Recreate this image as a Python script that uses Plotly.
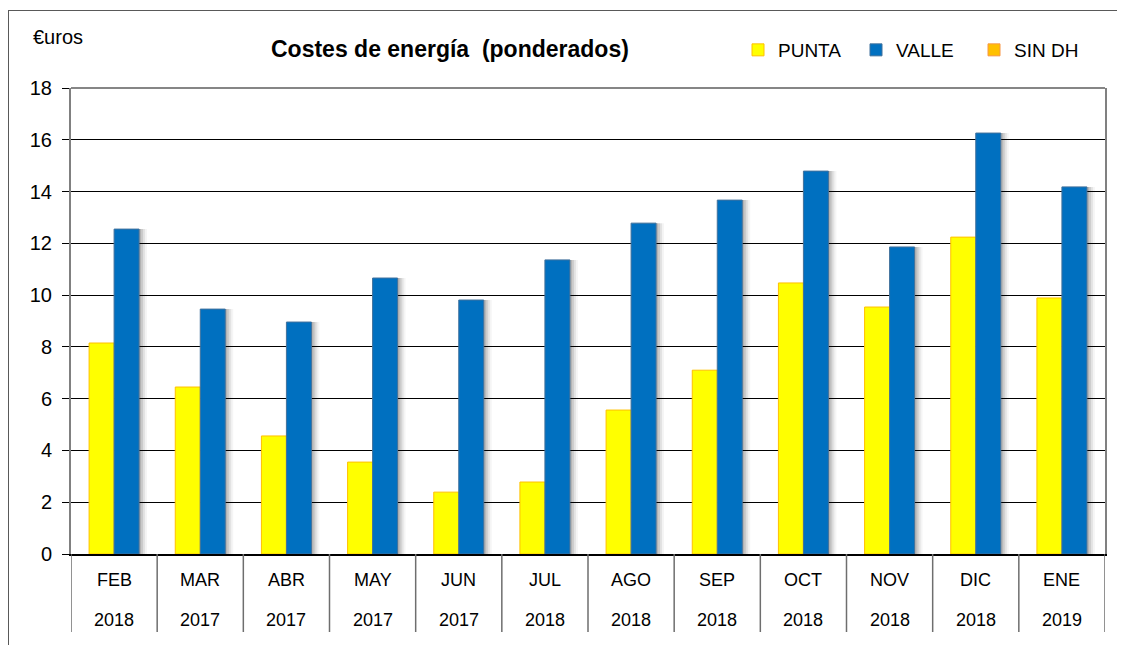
import plotly.graph_objects as go

months = ["FEB", "MAR", "ABR", "MAY", "JUN", "JUL", "AGO", "SEP", "OCT", "NOV", "DIC", "ENE"]
years = ["2018", "2017", "2017", "2017", "2017", "2018", "2018", "2018", "2018", "2018", "2018", "2019"]
punta = [8.15, 6.45, 4.56, 3.55, 2.39, 2.78, 5.56, 7.10, 10.47, 9.54, 12.24, 9.89]
valle = [12.55, 9.46, 8.96, 10.66, 9.81, 11.36, 12.78, 13.67, 14.79, 11.86, 16.26, 14.18]
y_ticks = [0, 2, 4, 6, 8, 10, 12, 14, 16, 18]

OFF = 8  # default page body margin
W, H = 1125 - OFF, 645 - OFF
# plot area in page pixels: x 71..1105, y 88..554
L, T = 71 - OFF, 88 - OFF
R = W - (1105 - OFF)
B = H - (554 - OFF)
PW = W - L - R
PH = H - T - B
px = 1.0 / (PW / 12.0)  # one pixel in category units
BW = 25 * px

def pxx(x):  # page x -> paper
    return (x - OFF - L) / PW

def pxy(y):  # page y -> paper
    return (H - B - (y - OFF)) / PH

FONT = "Liberation Sans, Arial, sans-serif"

fig = go.Figure()

# soft shadows behind the blue bars
for dx, op in [(8, 0.04), (6, 0.07), (4, 0.10), (2, 0.12)]:
    fig.add_trace(go.Bar(
        x=months, y=valle, width=BW, offset=dx * px,
        marker=dict(color=f"rgba(0,0,0,{op})", line=dict(width=0)),
        showlegend=False, hoverinfo="skip"))

fig.add_trace(go.Bar(
    name="PUNTA", x=months, y=punta, width=BW, offset=-BW,
    marker=dict(color="#FFFF00", line=dict(color="#FFC000", width=1))))
fig.add_trace(go.Bar(
    name="VALLE", x=months, y=valle, width=BW, offset=0,
    marker=dict(color="#0070C0", line=dict(color="#41719C", width=1))))
fig.add_trace(go.Bar(
    name="SIN DH", x=[months[0]], y=[None], width=BW, offset=0,
    marker=dict(color="#FFC000", line=dict(color="#F79646", width=1))))

shapes = []
# category separators under the axis
for i in range(len(months) + 1):
    shapes.append(dict(type="line", xref="x", yref="paper",
                       x0=i - 0.5, x1=i - 0.5, y0=0, y1=pxy(632),
                       line=dict(color="#6E6E6E", width=1.5)))
# top border of plot area
shapes.append(dict(type="line", xref="paper", yref="paper", x0=0, x1=1, y0=1, y1=1,
                   line=dict(color="#868686", width=2)))
# outer chart frame (top and left)
shapes.append(dict(type="line", xref="paper", yref="paper",
                   x0=pxx(8.5), x1=pxx(1130), y0=pxy(10.5), y1=pxy(10.5),
                   line=dict(color="#595959", width=1)))
shapes.append(dict(type="line", xref="paper", yref="paper",
                   x0=pxx(8.5), x1=pxx(8.5), y0=pxy(10), y1=pxy(650),
                   line=dict(color="#595959", width=1)))

annotations = []
for m, yv in zip(months, years):
    annotations.append(dict(x=m, y=pxy(580), xref="x", yref="paper", text=m,
                            showarrow=False, font=dict(size=18, color="#000000", family=FONT),
                            xanchor="center", yanchor="middle"))
    annotations.append(dict(x=m, y=pxy(620), xref="x", yref="paper", text=yv,
                            showarrow=False, font=dict(size=18, color="#000000", family=FONT),
                            xanchor="center", yanchor="middle"))
annotations.append(dict(x=pxx(31), y=pxy(37), xref="paper", yref="paper", text="€uros",
                        showarrow=False, font=dict(size=20, color="#000000", family=FONT),
                        xanchor="left", yanchor="middle"))
annotations.append(dict(x=pxx(450), y=pxy(49), xref="paper", yref="paper",
                        text="<b>Costes de energía  (ponderados)</b>",
                        showarrow=False, font=dict(size=23, color="#000000", family=FONT),
                        xanchor="center", yanchor="middle"))

fig.update_layout(
    width=W, height=H,
    margin=dict(l=L, r=R, t=T, b=B, pad=0),
    paper_bgcolor="white", plot_bgcolor="white",
    barmode="overlay",
    font=dict(family=FONT, size=18, color="#000000"),
    showlegend=True,
    legend=dict(orientation="h", x=pxx(738), y=pxy(50), xanchor="left", yanchor="middle",
                font=dict(size=19, color="#000000", family=FONT),
                entrywidth=73, entrywidthmode="pixels",
                bgcolor="rgba(0,0,0,0)", borderwidth=0, traceorder="normal"),
    shapes=shapes,
    annotations=annotations,
)
fig.update_xaxes(type="category", range=[-0.5, len(months) - 0.5],
                 showticklabels=False, ticks="", showgrid=False,
                 showline=True, linecolor="#000000", linewidth=1.5, zeroline=False)
fig.update_yaxes(range=[0, 18], tickvals=y_ticks, ticktext=[str(v) for v in y_ticks],
                 ticks="outside", ticklen=7, tickcolor="#000000", tickwidth=1,
                 ticklabelstandoff=6,
                 tickfont=dict(size=20, color="#000000", family=FONT),
                 showgrid=True, gridcolor="#000000", gridwidth=1,
                 showline=True, linecolor="#808080", linewidth=2, mirror=True,
                 zeroline=False)

fig.write_html("out.html")
